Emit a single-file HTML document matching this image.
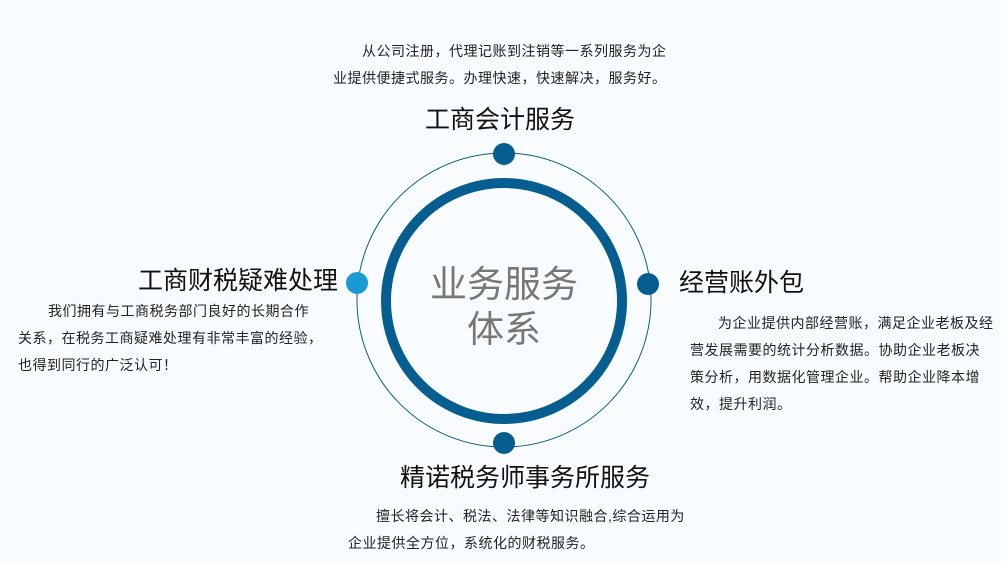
<!DOCTYPE html>
<html><head><meta charset="utf-8"><style>
body{margin:0;width:1001px;height:564px;background:#f8fcfe;position:relative;overflow:hidden;font-family:"Liberation Sans","Noto Sans CJK SC",sans-serif;color:#222}
.t{position:absolute;font-size:25px;line-height:30px;white-space:nowrap;color:#111}
.p{position:absolute;font-size:14px;line-height:27px;letter-spacing:0.5px;color:#222;white-space:nowrap}
</style></head><body>
<svg width="1001" height="564" style="position:absolute;left:0;top:0">
<circle cx="504" cy="300" r="147" fill="none" stroke="#0b5d8e" stroke-width="1"/>
<circle cx="504" cy="301" r="118" fill="none" stroke="#055e8f" stroke-width="10"/>
<circle cx="504" cy="154" r="11" fill="#055e8f"/>
<circle cx="357" cy="283" r="11" fill="#1a9ad2"/>
<circle cx="648" cy="284" r="11" fill="#055e8f"/>
<circle cx="504" cy="443" r="11" fill="#055e8f"/>
</svg>
<div style="position:absolute;left:404px;top:262px;width:200px;text-align:center;font-size:37px;line-height:45px;color:#777">业务服务<br>体系</div>
<div class="p" style="left:333px;top:38px;text-indent:29px">从公司注册，代理记账到注销等一系列服务为企<br>业提供便捷式服务。办理快速，快速解决，服务好。</div>
<div class="t" style="left:425px;top:105px">工商会计服务</div>
<div class="t" style="left:138px;top:266px">工商财税疑难处理</div>
<div class="p" style="left:18px;top:298px;text-indent:30px">我们拥有与工商税务部门良好的长期合作<br>关系，在税务工商疑难处理有非常丰富的经验，<br>也得到同行的广泛认可！</div>
<div class="t" style="left:679px;top:268px">经营账外包</div>
<div class="p" style="left:690px;top:310px;text-indent:28px">为企业提供内部经营账，满足企业老板及经<br>营发展需要的统计分析数据。协助企业老板决<br>策分析，用数据化管理企业。帮助企业降本增<br>效，提升利润。</div>
<div class="t" style="left:400px;top:463px">精诺税务师事务所服务</div>
<div class="p" style="left:348px;top:503px;text-indent:28px">擅长将会计、税法、法律等知识融合,综合运用为<br>企业提供全方位，系统化的财税服务。</div>
</body></html>
